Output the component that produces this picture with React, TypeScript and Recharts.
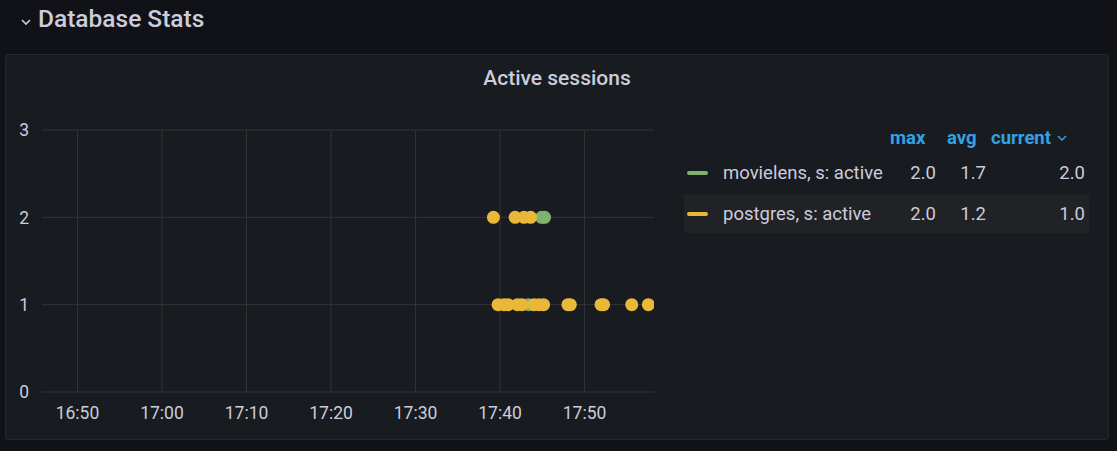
import React from "react";
import { ScatterChart, Scatter, XAxis, YAxis, CartesianGrid, ReferenceLine } from "recharts";

// ---- data ----
const xTickLabels = ["16:50", "17:00", "17:10", "17:20", "17:30", "17:40", "17:50"];
const yTicks = [0, 1, 2, 3];
const xRange = ["16:45:48", "17:58:13"];

const movielensTimes = ["17:43:22", "17:44:55", "17:45:16"];
const movielensValues = [1, 2, 2];

const postgresTimes = [
  "17:39:13", "17:39:46", "17:40:28", "17:40:57", "17:41:47", "17:42:04", "17:42:36",
  "17:42:50", "17:43:37", "17:44:01", "17:44:37", "17:45:09", "17:48:02", "17:48:19",
  "17:51:57", "17:52:15", "17:55:35", "17:57:33",
];
const postgresValues = [2, 1, 1, 1, 2, 1, 1, 2, 2, 1, 1, 1, 1, 1, 1, 1, 1, 1];

const seriesNames = ["movielens, s: active", "postgres, s: active"];
const seriesColors = ["#7EB26D", "#EAB839"];
const maxValues = ["2.0", "2.0"];
const avgValues = ["1.7", "1.2"];
const currentValues = ["2.0", "1.0"];
const legendHeaders = ["max", "avg", "current"];

// ---- helpers ----
const toMinutes = (t: string) => {
  const p = t.split(":").map(Number);
  return (p[0] - 16) * 60 + p[1] + (p[2] || 0) / 60;
};
const fmt = (m: number) => {
  const h = 16 + Math.floor(m / 60);
  const mm = Math.round(m % 60);
  return `${h}:${mm < 10 ? "0" + mm : mm}`;
};
const build = (times: string[], vals: number[]) => times.map((t, i) => ({ x: toMinutes(t), y: vals[i] }));

const movielensData = build(movielensTimes, movielensValues);
const postgresData = build(postgresTimes, postgresValues);
const xTicks = xTickLabels.map(toMinutes);
const xDomain = xRange.map(toMinutes);

const dot = (color: string) => (props: any) => (
  <circle cx={props.cx} cy={props.cy} r={6.5} fill={color} />
);

const TEXT = "#ccccdc";
const BLUE = "#33a2e5";
const GRID = "#323438";
const FONT = "Roboto, 'Noto Sans', sans-serif";

export default function App() {
  return (
    <div
      style={{
        position: "absolute",
        left: 0,
        top: 0,
        width: 1117,
        height: 451,
        background: "#111217",
        fontFamily: FONT,
        overflow: "hidden",
      }}
    >
      {/* row header */}
      <svg style={{ position: "absolute", left: 20, top: 16 }} width={14} height={12}>
        <polyline points="2,4 6,8 10,4" fill="none" stroke={TEXT} strokeWidth={1.6} />
      </svg>
      <div
        style={{
          position: "absolute",
          left: 38,
          top: 4,
          fontSize: 24.5,
          fontWeight: 500,
          color: TEXT,
          lineHeight: "30px",
        }}
      >
        Database Stats
      </div>

      {/* panel */}
      <div
        style={{
          position: "absolute",
          left: 5,
          top: 54,
          width: 1102,
          height: 384,
          background: "#181b1f",
          border: "1px solid #24272c",
          borderRadius: 3,
        }}
      />
      <div
        style={{
          position: "absolute",
          left: 5,
          top: 64,
          width: 1104,
          textAlign: "center",
          fontSize: 21,
          fontWeight: 500,
          color: TEXT,
          lineHeight: "28px",
        }}
      >
        Active sessions
      </div>

      <div style={{ position: "absolute", left: 0, top: 0 }}>
        <ScatterChart width={670} height={451} margin={{ top: 130, right: 16, bottom: 29, left: 12 }}>
          <CartesianGrid stroke={GRID} strokeWidth={1} vertical={false} />
          <XAxis
            type="number"
            dataKey="x"
            domain={xDomain}
            ticks={xTicks}
            tickFormatter={fmt}
            allowDataOverflow
            height={30}
            axisLine={false}
            tickLine={false}
            tickSize={0}
            tickMargin={15}
            tick={{ fill: TEXT, fontSize: 17.5, fontFamily: FONT }}
          />
          <YAxis
            type="number"
            dataKey="y"
            domain={[0, 3]}
            ticks={yTicks}
            width={30}
            axisLine={false}
            tickLine={false}
            tickSize={0}
            tickMargin={13}
            tick={{ fill: TEXT, fontSize: 17.5, fontFamily: FONT }}
          />
          {xTicks.map((t) => (
            <ReferenceLine key={t} x={t} stroke={GRID} strokeWidth={1} />
          ))}
          <Scatter data={movielensData} fill={seriesColors[0]} shape={dot(seriesColors[0])} isAnimationActive={false} />
          <Scatter data={postgresData} fill={seriesColors[1]} shape={dot(seriesColors[1])} isAnimationActive={false} />
        </ScatterChart>
      </div>

      {/* legend */}
      <div
        style={{
          position: "absolute",
          left: 684,
          top: 194,
          width: 405,
          height: 39,
          background: "#202226",
        }}
      />
      {legendHeaders.map((h, i) => (
        <div
          key={h}
          style={{
            position: "absolute",
            top: 126,
            left: [890, 947, 991][i],
            fontSize: 18.5,
            fontWeight: 700,
            color: BLUE,
            lineHeight: "24px",
          }}
        >
          {h}
        </div>
      ))}
      <svg style={{ position: "absolute", left: 1056, top: 133 }} width={12} height={10}>
        <polyline points="2,3 6,7 10,3" fill="none" stroke={BLUE} strokeWidth={1.5} />
      </svg>
      {seriesNames.map((name, i) => {
        const cy = [173, 214][i];
        return (
          <React.Fragment key={name}>
            <div
              style={{
                position: "absolute",
                left: 687,
                top: cy - 2,
                width: 21,
                height: 4,
                borderRadius: 2,
                background: seriesColors[i],
              }}
            />
            <div
              style={{
                position: "absolute",
                left: 723,
                top: cy - 12,
                fontSize: 18.5,
                color: TEXT,
                lineHeight: "24px",
                whiteSpace: "nowrap",
              }}
            >
              {name}
            </div>
            {[maxValues[i], avgValues[i], currentValues[i]].map((v, j) => (
              <div
                key={j}
                style={{
                  position: "absolute",
                  left: [936, 986, 1085][j] - 60,
                  width: 60,
                  textAlign: "right",
                  top: cy - 12,
                  fontSize: 18.5,
                  color: TEXT,
                  lineHeight: "24px",
                }}
              >
                {v}
              </div>
            ))}
          </React.Fragment>
        );
      })}
    </div>
  );
}
